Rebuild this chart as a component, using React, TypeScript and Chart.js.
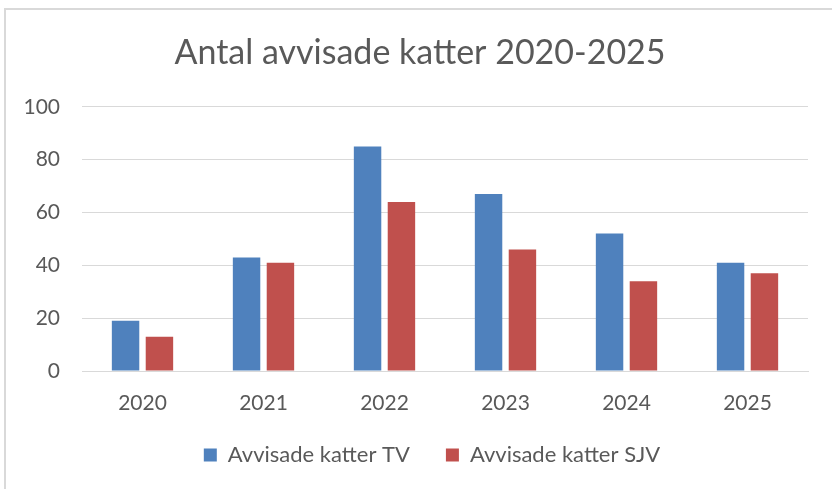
import React, { useEffect, useRef } from "react";
import { Chart, registerables } from "chart.js";

Chart.register(...registerables);

const categories = ["2020", "2021", "2022", "2023", "2024", "2025"];
const tvValues = [19, 43, 85, 67, 52, 41];
const sjvValues = [13, 41, 64, 46, 34, 37];
const seriesNames = ["Avvisade katter TV", "Avvisade katter SJV"];
const titleText = "Antal avvisade katter 2020-2025";

const FONT = "Lato, 'Open Sans', sans-serif";
const TEXT = "#595959";

const shiftPlugin = {
  id: "shiftBlocks",
  afterLayout(chart: any) {
    const t = chart.titleBlock;
    if (t) { t.left += 16; t.right += 16; }
    const l = chart.legend;
    if (l) { l.left += 28; l.right += 28; l.top -= 13; l.bottom -= 13; }
  },
};

export default function App() {
  const ref = useRef<HTMLCanvasElement | null>(null);
  useEffect(() => {
    if (!ref.current) return;
    const chart = new Chart(ref.current, {
      type: "bar",
      data: {
        labels: categories,
        datasets: [
          { label: seriesNames[0], data: tvValues, backgroundColor: "#4F81BD", categoryPercentage: 0.56, barPercentage: 0.81 },
          { label: seriesNames[1], data: sjvValues, backgroundColor: "#C0504D", categoryPercentage: 0.56, barPercentage: 0.81 },
        ],
      },
      plugins: [shiftPlugin],
      options: {
        animation: false,
        responsive: false,
        maintainAspectRatio: false,
        layout: { padding: { left: 0, right: 24, top: 0, bottom: 0 } },
        plugins: {
          title: {
            display: true,
            text: titleText,
            color: TEXT,
            font: { family: FONT, size: 34, weight: "normal" },
            padding: { top: 33, bottom: 33 },
          },
          legend: {
            position: "bottom",
            labels: {
              color: TEXT,
              font: { family: FONT, size: 22 },
              boxWidth: 13,
              boxHeight: 13,
              padding: 36,
            },
          },
          tooltip: { enabled: false },
        },
        scales: {
          x: {
            grid: { display: false, drawTicks: false },
            border: { display: true, color: "#D9D9D9", width: 1 },
            ticks: { color: TEXT, font: { family: FONT, size: 21 }, padding: 20 },
            afterFit: (s: any) => { s.height = 50; },
          },
          y: {
            min: 0,
            max: 100,
            ticks: { stepSize: 20, color: TEXT, font: { family: FONT, size: 21 }, padding: 22 },
            grid: { color: "#D9D9D9", lineWidth: 1, drawTicks: false },
            border: { display: false },
            afterFit: (s: any) => { s.width = 82; },
          },
        },
      },
    });
    return () => chart.destroy();
  }, []);
  return (
    <div style={{ position: "fixed", left: 0, top: 0, width: 832, height: 489, background: "#fff" }}>
      <div style={{ position: "absolute", left: 4, top: 8, right: 0, bottom: 0, borderTop: "2px solid #D9D9D9", borderLeft: "2px solid #D9D9D9" }} />
      <canvas ref={ref} width={832} height={489} style={{ position: "absolute", left: 0, top: 0 }} />
    </div>
  );
}
